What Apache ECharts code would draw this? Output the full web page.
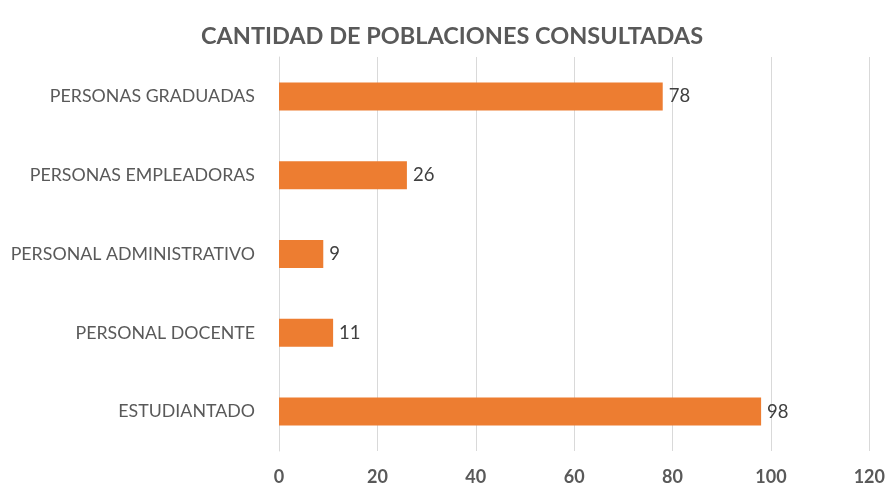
<!DOCTYPE html>
<html>
<head>
<meta charset="utf-8">
<script src="https://cdn.jsdelivr.net/npm/echarts@6/dist/echarts.min.js"></script>
<style>
  html, body { margin: 0; padding: 0; background: #fff; }
  #chart { width: 888px; height: 487px; }
</style>
</head>
<body>
<div id="chart"></div>
<script>
// datos (de abajo hacia arriba)
var categorias = ["ESTUDIANTADO", "PERSONAL DOCENTE", "PERSONAL ADMINISTRATIVO", "PERSONAS EMPLEADORAS", "PERSONAS GRADUADAS"];
var valores = [98, 11, 9, 26, 78];
var ticksX = [0, 20, 40, 60, 80, 100, 120];

var myChart = echarts.init(document.getElementById("chart"));
var fuente = "Lato, 'Open Sans', sans-serif";

var option = {
  animation: false,
  title: {
    text: "CANTIDAD DE POBLACIONES CONSULTADAS",
    left: 447,
    textAlign: "center",
    top: 19,
    textStyle: { fontFamily: fuente, fontSize: 23.5, fontWeight: "bold", color: "#595959" }
  },
  grid: { left: 279, right: 16, top: 57, bottom: 36 },
  xAxis: {
    type: "value",
    min: ticksX[0],
    max: ticksX[ticksX.length - 1],
    interval: 20,
    axisLine: { show: false },
    axisTick: { show: false },
    splitLine: { lineStyle: { color: "#d9d9d9", width: 1 } },
    axisLabel: { fontFamily: fuente, fontSize: 18, fontWeight: "bold", color: "#595959", margin: 17 }
  },
  yAxis: {
    type: "category",
    data: categorias,
    axisLine: { show: true, lineStyle: { color: "#d9d9d9" } },
    axisTick: { show: false },
    axisLabel: { fontFamily: fuente, fontSize: 17.8, color: "#595959", margin: 24 }
  },
  series: [
    {
      type: "bar",
      data: valores,
      barWidth: 28,
      itemStyle: { color: "#ed7d31" },
      label: {
        show: true,
        position: "right",
        distance: 6,
        fontFamily: fuente,
        fontSize: 18.5,
        color: "#404040"
      }
    }
  ]
};

myChart.setOption(option);
</script>
</body>
</html>
